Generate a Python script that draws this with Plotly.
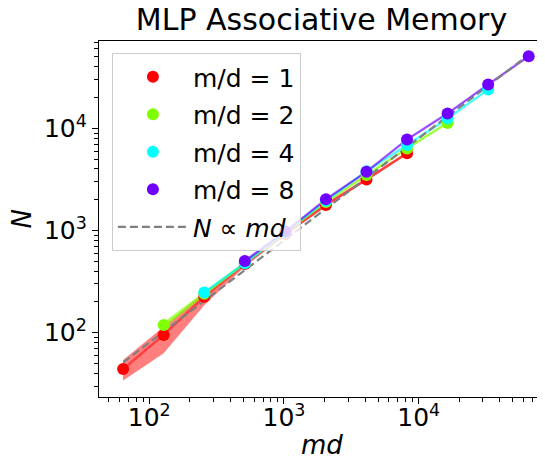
"""
MLP associative memory: capacity N against md, log-log
"""

import plotly.graph_objects as go

# md values, one per power of two
md = [64, 128, 256, 512, 1024, 2048, 4096, 8192, 16384, 32768, 65536]

ratios = [1, 2, 4, 8]
colors = ['#ff0000', '#80ff00', '#00ffff', '#7000ff']
fills = ['rgba(255,0,0,0.5)', 'rgba(128,255,0,0.5)',
         'rgba(0,255,255,0.5)', 'rgba(112,0,255,0.5)']
lines = ['rgba(255,0,0,0.5)', 'rgba(128,255,0,0.5)',
         'rgba(0,255,255,0.5)', 'rgba(112,0,255,0.5)']

# each series covers 8 consecutive md values, shifted by one per ratio
x_r1 = md[0:8]
x_r2 = md[1:9]
x_r4 = md[2:10]
x_r8 = md[3:11]

n_r1 = [44, 95, 225, 470, 930, 1780, 3160, 5700]
n_r2 = [119, 240, 480, 950, 1900, 3490, 6360, 11300]
n_r4 = [247, 477, 960, 1950, 3800, 6850, 12500, 24000]
n_r8 = [503, 975, 2020, 3760, 7780, 14000, 26900, 50800]

lo_r1 = [34, 63, 185, 445, 890, 1720, 3050, 5500]
hi_r1 = [54, 114, 250, 495, 975, 1850, 3280, 5900]
lo_r2 = [110, 228, 462, 925, 1860, 3400, 6200, 11000]
hi_r2 = [128, 252, 498, 975, 1940, 3580, 6520, 11600]
lo_r4 = [238, 465, 940, 1910, 3720, 6700, 12200, 23500]
hi_r4 = [256, 490, 980, 1990, 3880, 7000, 12800, 24500]
lo_r8 = [490, 955, 1980, 3690, 7650, 13750, 26400, 50000]
hi_r8 = [516, 995, 2060, 3830, 7910, 14250, 27400, 51600]

# reference slope N = c * md
fit_c = 0.8

series = [
    (x_r1, n_r1, lo_r1, hi_r1),
    (x_r2, n_r2, lo_r2, hi_r2),
    (x_r4, n_r4, lo_r4, hi_r4),
    (x_r8, n_r8, lo_r8, hi_r8),
]

fig = go.Figure()

for i, (xs, ys, lo, hi) in enumerate(series):
    fig.add_trace(go.Scatter(
        x=xs + xs[::-1], y=hi + lo[::-1],
        fill='toself', fillcolor=fills[i], mode='none',
        line=dict(width=0), showlegend=False, hoverinfo='skip'
    ))
    fig.add_trace(go.Scatter(
        x=xs, y=ys, mode='lines',
        line=dict(color=lines[i], width=2.5),
        showlegend=False, hoverinfo='skip'
    ))

fig.add_trace(go.Scatter(
    x=[md[0], md[-1]], y=[fit_c * md[0], fit_c * md[-1]],
    mode='lines', name='<i>N</i> ∝ <i>md</i>',
    line=dict(color='#808080', width=2.2, dash='8px,4px'),
    legendrank=5, legendgroup='fit'
))

for i, (xs, ys, lo, hi) in enumerate(series):
    fig.add_trace(go.Scatter(
        x=xs, y=ys, mode='markers', name=f'm/d = {ratios[i]}',
        marker=dict(color=colors[i], size=12, line=dict(width=0)),
        legendrank=i + 1, legendgroup=f'r{ratios[i]}'
    ))

minor_vals = [k * 10 ** e for e in range(1, 5) for k in range(2, 10)]
axis_common = dict(
    type='log', showgrid=False, zeroline=False, automargin=False,
    showline=True, mirror=True, linecolor='black', linewidth=1.3,
    ticks='outside', ticklen=6, tickwidth=1.3, tickcolor='black',
    tickfont=dict(size=25, color='black'),
    minor=dict(ticks='outside', ticklen=3.5, tickwidth=1, tickcolor='black',
               tickvals=minor_vals, showgrid=False),
)

# the page body adds 8px, so the figure is drawn 8px smaller and shifted
fig.update_layout(
    width=537, height=451,
    margin=dict(l=91, r=1, t=33, b=62),
    paper_bgcolor='white', plot_bgcolor='white',
    font=dict(family='DejaVu Sans', color='black'),
    title=dict(text='MLP Associative Memory', font=dict(size=30),
               x=0.5, xref='paper', xanchor='center',
               y=0.974, yref='container', yanchor='middle'),
    xaxis=dict(axis_common, range=[1.627, 4.93],
               tickvals=[100, 1000, 10000], ticklabelstandoff=-8,
               ticktext=['10<sup>2</sup>', '10<sup>3</sup>', '10<sup>4</sup>']),
    yaxis=dict(axis_common, range=[1.37, 4.855],
               tickvals=[100, 1000, 10000],
               ticktext=['10<sup>2</sup>', '10<sup>3</sup>', '10<sup>4</sup>']),
    legend=dict(x=0.029, y=0.966, xanchor='left', yanchor='top',
                bgcolor='rgba(255,255,255,0.8)', bordercolor='#cccccc',
                borderwidth=1, font=dict(size=25), itemwidth=70,
                tracegroupgap=2),
    annotations=[
        dict(text='<i>md</i>', xref='paper', yref='paper', x=0.5, y=-0.136,
             xanchor='center', yanchor='middle', showarrow=False,
             font=dict(size=26)),
        dict(text='<i>N</i>', xref='paper', yref='paper', x=-0.172, y=0.5,
             xanchor='center', yanchor='middle', showarrow=False,
             textangle=-90, font=dict(size=26)),
    ],
)

fig.write_html("out.html")
